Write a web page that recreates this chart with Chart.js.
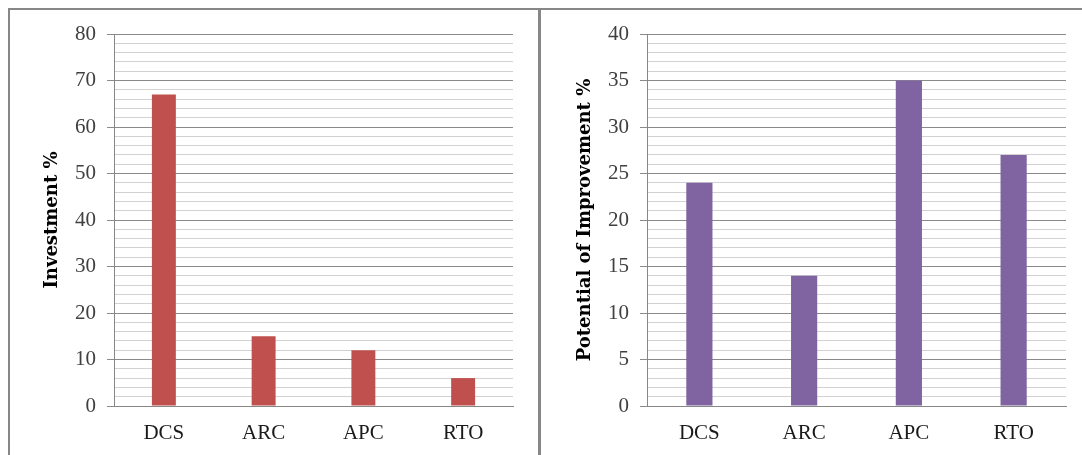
<!DOCTYPE html>
<html>
<head>
<meta charset="utf-8">
<script src="https://cdn.jsdelivr.net/npm/chart.js@4/dist/chart.umd.min.js"></script>
<style>
  html, body { margin: 0; padding: 0; background: #fff; }
  body { width: 1082px; height: 455px; position: relative; overflow: hidden; }
  .box { position: absolute; }
  #wrapL { left: 0; top: 0; width: 539px; height: 455px; }
  #wrapR { left: 540px; top: 0; width: 542px; height: 455px; }
  .frame { position: absolute; background: #878787; }
</style>
</head>
<body>
<div class="box" id="wrapL"><canvas id="chartL" width="539" height="455"></canvas></div>
<div class="box" id="wrapR"><canvas id="chartR" width="542" height="455"></canvas></div>
<div class="frame" style="left:8px;top:8px;width:1074px;height:2px;"></div>
<div class="frame" style="left:8px;top:8px;width:2px;height:447px;"></div>
<div class="frame" style="left:538px;top:8px;width:3px;height:447px;"></div>
<script>
// Technologies on the horizontal axis
const categories = ['DCS', 'ARC', 'APC', 'RTO'];
// Share of investment per technology (%)
const investment = [67, 15, 12, 6];
// Potential of improvement per technology (%)
const improvement = [24, 14, 35, 27];
// Value axes: [max, major step, minor step]
const investmentAxis = [80, 10, 2];
const improvementAxis = [40, 5, 1];

const tickFont = { family: '"Liberation Serif", "Times New Roman", serif', size: 21 };
const catFont = { family: '"Liberation Serif", "Times New Roman", serif', size: 21 };
const titleFont = { family: '"DejaVu Serif", serif', size: 18, weight: 'bold' };

function isMajor(v, major) { return Math.abs(v / major - Math.round(v / major)) < 1e-6; }

function makeChart(id, values, axis, color, title, opts) {
  const [max, major, minor] = axis;
  return new Chart(document.getElementById(id), {
    type: 'bar',
    data: {
      labels: categories,
      datasets: [{
        data: values,
        backgroundColor: color,
        borderColor: color,
        borderWidth: 0,
        categoryPercentage: 1,
        barPercentage: opts.barPct
      }]
    },
    options: {
      responsive: false,
      animation: false,
      devicePixelRatio: 1,
      layout: { padding: { left: 0, right: opts.padRight, top: 34, bottom: 0 } },
      plugins: { legend: { display: false }, tooltip: { enabled: false } },
      scales: {
        x: {
          grid: { display: false, drawTicks: false },
          border: { display: true, color: '#878787', width: 1 },
          ticks: { font: catFont, color: '#1a1a1a', padding: 15, maxRotation: 0 },
          afterFit: (s) => { s.height = 455 - 406; }
        },
        y: {
          min: 0,
          max: max,
          ticks: {
            stepSize: minor,
            autoSkip: false,
            maxTicksLimit: 100,
            font: tickFont,
            color: '#404040',
            padding: 11,
            callback: (v) => isMajor(v, major) ? String(v) : ''
          },
          grid: {
            color: (ctx) => isMajor(ctx.tick.value, major) ? '#8a8a8a' : '#d2d2d2',
            tickColor: (ctx) => isMajor(ctx.tick.value, major) ? '#8a8a8a' : 'rgba(0,0,0,0)',
            tickLength: 7,
            lineWidth: 1
          },
          border: { display: true, color: '#878787', width: 1 },
          title: {
            display: true,
            text: title,
            font: titleFont,
            color: '#000',
            padding: { top: opts.titlePad, bottom: 0 }
          },
          afterFit: (s) => { s.width = opts.axisX; }
        }
      }
    }
  });
}

makeChart('chartL', investment, investmentAxis, '#C0504D', 'Investment %',
  { barPct: 0.24, padRight: 539 - 513, axisX: 114, titlePad: 42 });
makeChart('chartR', improvement, improvementAxis, '#8064A2', 'Potential of Improvement %',
  { barPct: 0.25, padRight: 542 - 526, axisX: 107, titlePad: 35 });
</script>
</body>
</html>
